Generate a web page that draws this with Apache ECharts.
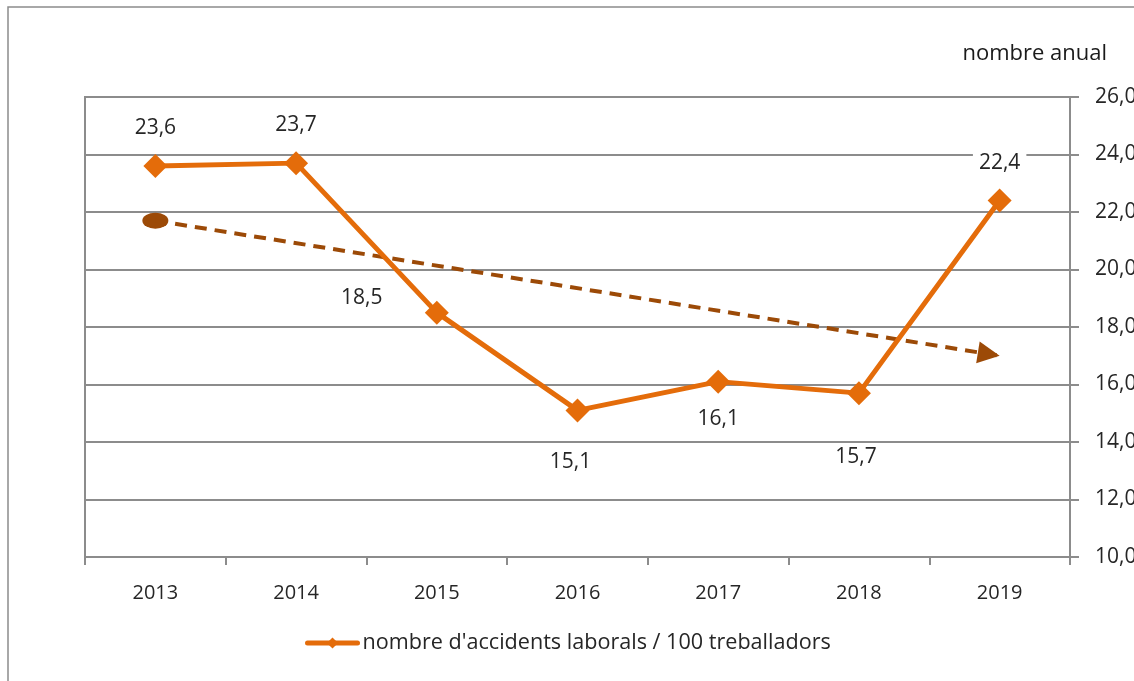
<!DOCTYPE html>
<html>
<head>
<meta charset="utf-8">
<script src="https://cdn.jsdelivr.net/npm/echarts@6/dist/echarts.min.js"></script>
<style>
  html, body { margin: 0; padding: 0; background: #fff; }
  #chart { width: 1134px; height: 681px; }
</style>
</head>
<body>
<div id="chart"></div>
<script>
  // dades llegides del gràfic
  const years = ['2013', '2014', '2015', '2016', '2017', '2018', '2019'];
  const accidents = [23.6, 23.7, 18.5, 15.1, 16.1, 15.7, 22.4];
  // tendència (inici i final de la fletxa discontínua)
  const trendStart = 21.7;
  const trendEnd = 17.0;
  const yTicks = { min: 10, max: 26, interval: 2 };

  // posició de cada etiqueta respecte del punt
  const labelOffsets = [[0, -38], [0, -38], [-75, -15], [-7, 52], [0, 37], [-3, 64], [0, -37]];

  const fmt = v => v.toFixed(1).replace('.', ',');
  const orange = '#E46C0A';
  const brown = '#9C4A07';
  const gray = '#8c8c8c';
  const font = '"Open Sans", "Noto Sans", sans-serif';

  let myChart = echarts.init(document.getElementById('chart'));
  myChart.setOption({
    animation: false,
    textStyle: { fontFamily: font, color: '#262626' },
    graphic: [
      {
        type: 'rect',
        shape: { x: 8, y: 7, width: 1300, height: 900 },
        style: { fill: 'none', stroke: gray, lineWidth: 1.5 },
        silent: true
      }
    ],
    title: {
      text: 'nombre anual',
      right: 22,
      top: 38,
      textStyle: { fontFamily: font, fontSize: 22, fontWeight: 'normal', color: '#1a1a1a' }
    },
    legend: {
      left: 300,
      top: 627,
      itemWidth: 50,
      itemHeight: 14,
      itemGap: 4,
      lineStyle: { width: 5, cap: 'round' },
      data: ['nombre d\'accidents laborals / 100 treballadors'],
      textStyle: { fontFamily: font, fontSize: 21.6, color: '#262626' }
    },
    grid: {
      left: 85,
      right: 64,
      top: 97,
      bottom: 124,
      outerBoundsMode: 'none',
      containLabel: false,
      show: true,
      borderColor: gray,
      borderWidth: 2
    },
    xAxis: {
      type: 'category',
      data: years,
      boundaryGap: true,
      axisLine: { lineStyle: { color: gray, width: 2 } },
      axisTick: { show: true, length: 8, interval: 0, lineStyle: { color: gray, width: 2 } },
      axisLabel: { margin: 26, fontSize: 20, color: '#262626', fontFamily: font },
      splitLine: { show: false }
    },
    yAxis: {
      type: 'value',
      position: 'right',
      min: yTicks.min,
      max: yTicks.max,
      interval: yTicks.interval,
      axisLine: { show: true, lineStyle: { color: gray, width: 2 } },
      axisTick: { show: true, length: 9, lineStyle: { color: gray, width: 2 } },
      axisLabel: { margin: 25, fontSize: 21, color: '#262626', fontFamily: font, formatter: fmt },
      splitLine: { show: true, lineStyle: { color: gray, width: 2 } }
    },
    series: [
      {
        name: 'tendencia',
        type: 'line',
        z: 3,
        data: [{ value: trendStart, symbol: 'circle', symbolSize: [26, 16] }],
        itemStyle: { color: brown },
        lineStyle: { width: 0 },
        label: { show: false },
        markLine: {
          silent: true,
          symbol: ['none', 'triangle'],
          symbolSize: 22,
          symbolOffset: [0, [0, 11]],
          label: { show: false },
          itemStyle: { color: brown },
          lineStyle: { color: brown, width: 4, type: [12, 8] },
          data: [[
            { coord: [years[0], trendStart] },
            { coord: [years[years.length - 1], trendEnd] }
          ]]
        }
      },
      {
        name: 'nombre d\'accidents laborals / 100 treballadors',
        type: 'line',
        z: 5,
        data: accidents.map((v, i) => ({
          value: v,
          label: { offset: labelOffsets[i] }
        })),
        symbol: 'diamond',
        symbolSize: 24,
        itemStyle: { color: orange },
        lineStyle: { color: orange, width: 5 },
        label: {
          show: true,
          position: 'inside',
          formatter: p => fmt(p.value),
          fontSize: 21,
          fontFamily: font,
          color: '#262626',
          backgroundColor: '#fff',
          padding: [1, 6]
        }
      }
    ]
  });
</script>
</body>
</html>
